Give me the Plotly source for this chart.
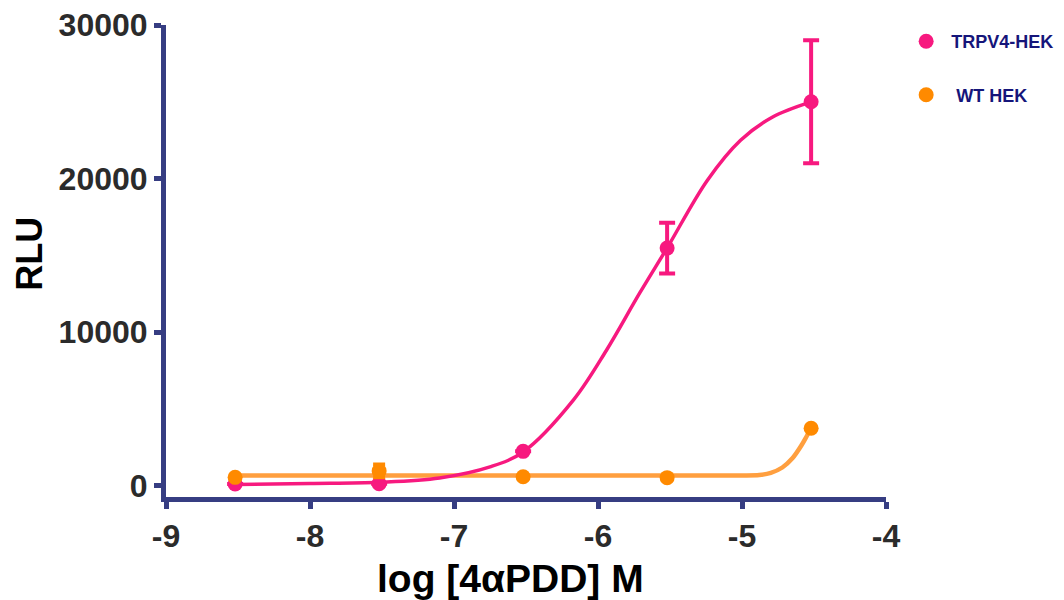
import plotly.graph_objects as go

# Measured data points (log M, RLU)
log_conc = [-8.52, -7.52, -6.52, -5.52, -4.52]
trpv4_rlu = [130, 150, 2250, 15480, 25000]
trpv4_err = [0, 0, 0, 1650, 4000]
wt_rlu = [560, 980, 600, 540, 3750]
wt_err = [0, 420, 0, 0, 0]

# Fitted curves
trpv4_fit_x = [-8.52, -8.0, -7.52, -7.1, -6.75, -6.52, -6.17, -5.94, -5.71, -5.52, -5.24, -5.01, -4.79, -4.52]
trpv4_fit_y = [100, 160, 240, 520, 1240, 2210, 5600, 8850, 12560, 15490, 19900, 22500, 24000, 25000]
wt_fit_x = [-8.52, -7.0, -6.0, -5.0, -4.88, -4.80, -4.72, -4.65, -4.59, -4.55, -4.52]
wt_fit_y = [680, 680, 680, 680, 710, 850, 1200, 1800, 2600, 3250, 3750]

# Ticks
x_ticks = [-9, -8, -7, -6, -5, -4]
y_ticks = [0, 10000, 20000, 30000]

PINK = "#f7197f"
ORANGE = "#ff8a00"
ORANGE_LINE = "#ff9f3f"
NAVY = "#363d82"
FONT = "Liberation Sans, Arial, sans-serif"

fig = go.Figure()

fig.add_trace(go.Scatter(x=wt_fit_x, y=wt_fit_y, mode="lines", line=dict(color=ORANGE_LINE, width=4.5, shape="spline", smoothing=0.8),
                         showlegend=False, hoverinfo="skip"))
fig.add_trace(go.Scatter(x=trpv4_fit_x, y=trpv4_fit_y, mode="lines", line=dict(color=PINK, width=3.5, shape="spline"),
                         showlegend=False, hoverinfo="skip"))

fig.add_trace(go.Scatter(x=log_conc, y=trpv4_rlu, mode="markers", name=" TRPV4-HEK", legendgroup="a",
                         marker=dict(color=PINK, size=15),
                         error_y=dict(type="data", array=trpv4_err, color=PINK, thickness=4, width=8)))
fig.add_trace(go.Scatter(x=log_conc, y=wt_rlu, mode="markers", name="  WT HEK", legendgroup="b",
                         marker=dict(color=ORANGE, size=15),
                         error_y=dict(type="data", array=wt_err, color=ORANGE, thickness=4, width=6)))

fig.update_layout(
    width=1064, height=600,
    margin=dict(l=158, r=186, t=17, b=111, autoexpand=False),
    plot_bgcolor="white", paper_bgcolor="white",
    font=dict(family=FONT),
    showlegend=True,
    legend=dict(x=1.028, y=1.004, xanchor="left", yanchor="top",
                font=dict(size=18, color="#15157a", family=FONT, weight="bold"),
                tracegroupgap=27, traceorder="grouped",
                bgcolor="rgba(0,0,0,0)"),
    xaxis=dict(range=[-9, -4], tickvals=x_ticks, ticktext=[str(v) for v in x_ticks], automargin=False,
               showgrid=False, zeroline=False, showline=True, linecolor=NAVY, linewidth=5,
               ticks="outside", ticklen=7, tickwidth=5, tickcolor=NAVY, ticklabeloverflow="allow",
               tickfont=dict(size=32, color="#2b2b2b", weight="bold")),
    yaxis=dict(range=[-720, 30000], tickvals=y_ticks, ticktext=[str(v) for v in y_ticks], automargin=False,
               showgrid=False, zeroline=False, showline=True, linecolor=NAVY, linewidth=5,
               ticks="outside", ticklen=7, tickwidth=5, tickcolor=NAVY, ticklabeloverflow="allow",
               tickfont=dict(size=32, color="#2b2b2b", weight="bold")),
    annotations=[
        dict(text="log [4αPDD] M", xref="paper", yref="paper", x=0.478, y=-0.172,
             xanchor="center", yanchor="middle", showarrow=False,
             font=dict(size=39, color="black", weight="bold", family=FONT)),
        dict(text="RLU", xref="paper", yref="paper", x=-0.189, y=0.515, textangle=-90,
             xanchor="center", yanchor="middle", showarrow=False,
             font=dict(size=36, color="black", weight="bold", family=FONT)),
    ],
)

fig.write_html("out.html")
